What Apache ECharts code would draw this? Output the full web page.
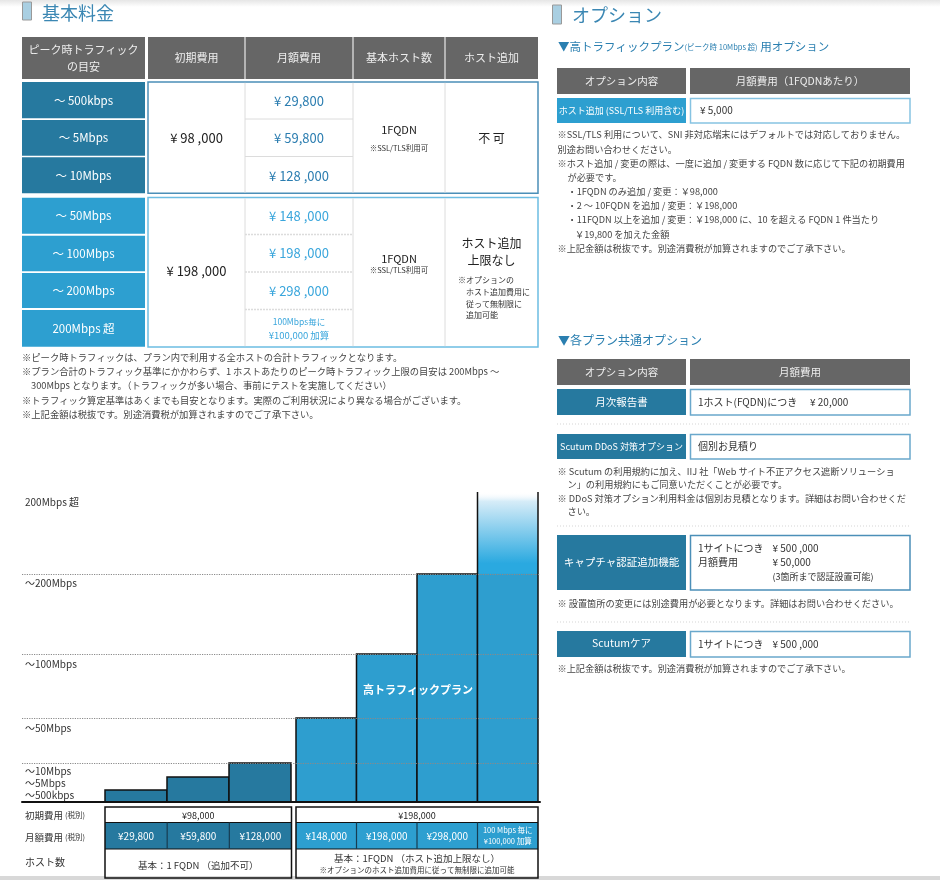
<!DOCTYPE html>
<html><head><meta charset="utf-8">
<script src="https://cdn.jsdelivr.net/npm/echarts@6/dist/echarts.min.js"></script>
<style>html,body{margin:0;padding:0;background:#fff}#c{width:940px;height:880px}</style>
</head><body><div id="c"></div>
<script>
// ---------- data ----------
const tierLabels = ['〜500kbps', '〜5Mbps', '〜10Mbps', '〜50Mbps', '〜100Mbps', '〜200Mbps', '200Mbps 超'];
const tierLabelLevels = [7, 19, 31, 74, 138, 219, 300];
const gridLevels = [39, 84, 148, 228];
const standardPlans = ['〜500kbps', '〜5Mbps', '〜10Mbps'];
const standardHeights = [12, 25, 39];
const highPlans = ['〜50Mbps', '〜100Mbps', '〜200Mbps', '200Mbps 超'];
const highHeights = [84, 148, 228, 310];
const standardInitial = '¥98,000';
const highInitial = '¥198,000';
const standardMonthly = ['¥29,800', '¥59,800', '¥128,000'];
const highMonthly = ['¥148,000', '¥198,000', '¥298,000', '100 Mbps 毎に\n¥100,000 加算'];
const standardHosts = '基本：1 FQDN （追加不可）';
const highHosts = ['基本：1FQDN （ホスト追加上限なし）', '※オプションのホスト追加費用に従って無制限に追加可能'];
const tableHeaders = ['ピーク時トラフィック\nの目安', '初期費用', '月額費用', '基本ホスト数', 'ホスト追加'];
const tableMonthly1 = ['¥ 29,800', '¥ 59,800', '¥ 128 ,000'];
const tableMonthly2 = ['¥ 148 ,000', '¥ 198 ,000', '¥ 298 ,000'];

// ---------- helpers ----------
const FF = "'Noto Sans CJK JP','Noto Sans',sans-serif";
const DARK = '#26799f', LIGHT = '#2d9fd0', HEAD = '#666666';
function txt(x, y, s, size, color, align, weight, lh) {
  return {type: 'text', x: x, y: y, z: 100, silent: true,
    style: {text: s, fill: color || '#333', font: (weight || 'normal') + ' ' + size + 'px ' + FF,
      textAlign: align || 'left', textVerticalAlign: 'middle', lineHeight: lh || Math.round(size * 1.4)}};
}
function rect(x, y, w, h, fill, stroke, lw) {
  return {type: 'rect', z: 50, silent: true, shape: {x: x, y: y, width: w, height: h},
    style: {fill: fill || 'none', stroke: stroke || null, lineWidth: lw || 0}};
}
function ln(x1, y1, x2, y2, stroke, lw, dash) {
  return {type: 'line', z: 60, silent: true, shape: {x1: x1, y1: y1, x2: x2, y2: y2},
    style: {stroke: stroke, lineWidth: lw || 1, lineDash: dash || null}};
}

const G = [];
// page decorations
G.push({type: 'rect', z: 1, silent: true, shape: {x: 0, y: 0, width: 940, height: 7},
  style: {fill: new echarts.graphic.LinearGradient(0, 0, 0, 1, [{offset: 0, color: '#e6e6e6'}, {offset: 1, color: '#ffffff'}])}});
G.push(rect(0, 876, 940, 4, '#d8d8d8'));
// titles
G.push(rect(22.5, 2, 9, 18, '#a9cfe2', '#999', 1));
G.push(txt(42, 13, '基本料金', 18, '#3b87b3'));
G.push(rect(552.5, 5, 9, 19, '#a9cfe2', '#999', 1));
G.push(txt(572, 15, 'オプション', 18, '#3b87b3'));

// ---------- top-left table ----------
G.push(rect(22, 37, 123, 42, HEAD));
G.push(rect(148, 37, 390, 42, HEAD));
[245, 353, 445].forEach(x => G.push(ln(x, 37, x, 79, '#cfcfcf', 1.5)));
const hdrX = [83.5, 196.5, 299, 399, 491.5];
tableHeaders.forEach((h, i) => G.push(txt(hdrX[i], 58, h, 11, '#eeeeee', 'center', 'normal', 17)));

const rows1 = [[82, 36.3], [120, 35.7], [157.3, 36]];
const rows2 = [[197.7, 36], [235.7, 35.6], [273, 35], [310, 36.7]];
rows1.forEach((r, i) => { G.push(rect(22, r[0], 123, r[1], DARK)); G.push(txt(83.5, r[0] + r[1] / 2, standardPlans[i].replace('〜', '〜 '), 11.5, '#fff', 'center')); });
rows2.forEach((r, i) => { G.push(rect(22, r[0], 123, r[1], LIGHT)); G.push(txt(83.5, r[0] + r[1] / 2, highPlans[i].indexOf('〜') === 0 ? highPlans[i].replace('〜', '〜 ') : highPlans[i], 11.5, '#fff', 'center')); });

// group 1 box
G.push(rect(148, 82, 390, 111.3, '#fff', '#4b8fb8', 1.5));
[245, 353, 445].forEach(x => G.push(ln(x, 82.8, x, 192.5, '#dcdcdc', 1)));
[119, 156.5].forEach(y => G.push(ln(245, y, 353, y, '#dcdcdc', 1)));
G.push(txt(196.5, 138, '¥ 98 ,000', 13, '#222', 'center'));
tableMonthly1.forEach((s, i) => G.push(txt(299, [101, 138.5, 176][i], s, 13, '#2b7db0', 'center')));
G.push(txt(399, 130, '1FQDN', 11, '#222', 'center'));
G.push(txt(399, 148, '※SSL/TLS利用可', 7.5, '#333', 'center'));
G.push(txt(491.5, 138, '不 可', 12, '#222', 'center'));

// group 2 box
G.push(rect(148, 197.5, 390, 149.5, '#fff', '#6cbde2', 1.5));
[245, 353, 445].forEach(x => G.push(ln(x, 198.3, x, 346.2, '#dcdcdc', 1)));
[234.5, 272, 309.5].forEach(y => G.push(ln(245, y, 353, y, '#dcdcdc', 1.5, [2, 1])));
G.push(txt(196.5, 271, '¥ 198 ,000', 13, '#222', 'center'));
tableMonthly2.forEach((s, i) => G.push(txt(299, [216, 253.5, 291][i], s, 13, '#3aa6dc', 'center')));
G.push(txt(299, 321.5, '100Mbps毎に', 8.5, '#3aa6dc', 'center'));
G.push(txt(299, 335.5, '¥100,000 加算', 9.5, '#3aa6dc', 'center'));
G.push(txt(399, 259, '1FQDN', 11, '#222', 'center'));
G.push(txt(399, 270.5, '※SSL/TLS利用可', 7.5, '#333', 'center'));
G.push(txt(491.5, 243.5, 'ホスト追加', 12, '#222', 'center'));
G.push(txt(491.5, 260.5, '上限なし', 12, '#222', 'center'));
G.push(txt(458, 280, '※オプションの', 8, '#333'));
G.push(txt(466, 292, 'ホスト追加費用に', 8, '#333'));
G.push(txt(466, 303.5, '従って無制限に', 8, '#333'));
G.push(txt(466, 315, '追加可能', 8, '#333'));

// notes left
[[22, 357, '※ピーク時トラフィックは、プラン内で利用する全ホストの合計トラフィックとなります。'],
 [22, 371.5, '※プラン合計のトラフィック基準にかかわらず、1 ホストあたりのピーク時トラフィック上限の目安は 200Mbps 〜'],
 [31, 385.5, '300Mbps となります。（トラフィックが多い場合、事前にテストを実施してください）'],
 [22, 400, '※トラフィック算定基準はあくまでも目安となります。実際のご利用状況により異なる場合がございます。'],
 [22, 414.5, '※上記金額は税抜です。別途消費税が加算されますのでご了承下さい。']
].forEach(n => G.push(txt(n[0], n[1], n[2], 9.3, '#444')));

// ---------- right side ----------
const BLUE_T = '#2a7fb0';
G.push({type: 'text', x: 558, y: 47, z: 100, silent: true,
  style: {text: '{a|▼高トラフィックプラン}{b|(ピーク時 10Mbps 超)}{a| 用オプション}', textVerticalAlign: 'middle',
    rich: {a: {fontSize: 11.5, fontFamily: FF, fill: BLUE_T, color: BLUE_T}, b: {fontSize: 7.5, fontFamily: FF, fill: BLUE_T, color: BLUE_T}}}});
G.push(rect(557, 68, 129, 26, HEAD)); G.push(rect(690, 68, 220, 26, HEAD));
G.push(txt(621.5, 81, 'オプション内容', 10.5, '#eee', 'center'));
G.push(txt(800, 81, '月額費用（1FQDNあたり）', 10.5, '#eee', 'center'));
G.push(rect(557, 98, 129, 25, LIGHT)); G.push(rect(690.5, 98.5, 219.5, 24.5, '#fff', '#86c3e2', 1.5));
G.push(txt(621.5, 110.5, 'ホスト追加 (SSL/TLS 利用含む)', 9, '#fff', 'center'));
G.push(txt(700, 110.5, '¥ 5,000', 10, '#333'));
[[557.5, 135, '※SSL/TLS 利用について、SNI 非対応端末にはデフォルトでは対応しておりません。'],
 [557.5, 149.3, '別途お問い合わせください。'],
 [557.5, 163.3, '※ホスト追加 / 変更の際は、一度に追加 / 変更する FQDN 数に応じて下記の初期費用'],
 [567.5, 177.3, 'が必要です。'],
 [567.5, 191.3, '・1FQDN のみ追加 / 変更：￥98,000'],
 [567.5, 206, '・2 〜 10FQDN を追加 / 変更：￥198,000'],
 [567.5, 220, '・11FQDN 以上を追加 / 変更：￥198,000 に、10 を超える FQDN 1 件当たり'],
 [575, 234.7, '￥19,800 を加えた金額'],
 [557.5, 248.7, '※上記金額は税抜です。別途消費税が加算されますのでご了承下さい。']
].forEach(n => G.push(txt(n[0], n[1], n[2], 9.2, '#444')));

G.push(txt(558, 340.7, '▼各プラン共通オプション', 12, BLUE_T));
G.push(rect(557, 359, 129, 26, HEAD)); G.push(rect(690, 359, 220, 26, HEAD));
G.push(txt(621.5, 372, 'オプション内容', 10.5, '#eee', 'center'));
G.push(txt(800, 372, '月額費用', 10.5, '#eee', 'center'));

G.push(rect(557, 389, 129, 26, DARK)); G.push(rect(690.5, 389.5, 219.5, 25.5, '#fff', '#6aa8cc', 1.5));
G.push(txt(621.5, 402, '月次報告書', 10.5, '#fff', 'center'));
G.push(txt(698, 402, '1ホスト(FQDN)につき', 10, '#333'));
G.push(txt(810, 402, '¥ 20,000', 10, '#333'));
G.push(ln(557, 424, 910, 424, '#d5d5d5', 1, [1, 2]));
G.push(rect(557, 434, 129, 25, DARK)); G.push(rect(690.5, 434.5, 219.5, 24.5, '#fff', '#6aa8cc', 1.5));
G.push(txt(621.5, 446.5, 'Scutum DDoS 対策オプション', 9, '#fff', 'center'));
G.push(txt(698, 446.5, '個別お見積り', 10, '#333'));
[[557.5, 471.7, '※ Scutum の利用規約に加え、IIJ 社「Web サイト不正アクセス遮断ソリューショ'],
 [567.5, 484.5, 'ン」の利用規約にもご同意いただくことが必要です。'],
 [557.5, 499, '※ DDoS 対策オプション利用料金は個別お見積となります。詳細はお問い合わせくだ'],
 [567.5, 511.7, 'さい。']
].forEach(n => G.push(txt(n[0], n[1], n[2], 9.2, '#444')));
G.push(ln(557, 526, 910, 526, '#d5d5d5', 1, [1, 2]));
G.push(rect(557, 535, 129, 55, DARK)); G.push(rect(690.5, 535.5, 219.5, 54.5, '#fff', '#4b8fb8', 1.5));
G.push(txt(621.5, 562.5, 'キャプチャ認証追加機能', 10.5, '#fff', 'center'));
G.push(txt(698, 548.3, '1サイトにつき', 10, '#333')); G.push(txt(772.5, 548.3, '¥ 500 ,000', 10, '#333'));
G.push(txt(698, 562.7, '月額費用', 10, '#333')); G.push(txt(772.5, 562.7, '¥ 50,000', 10, '#333'));
G.push(txt(772.5, 576.7, '(3箇所まで認証設置可能)', 9, '#333'));
G.push(txt(557.5, 604, '※ 設置箇所の変更には別途費用が必要となります。詳細はお問い合わせください。', 9.2, '#444'));
G.push(ln(557, 622, 910, 622, '#d5d5d5', 1, [1, 2]));
G.push(rect(557, 631, 129, 26, DARK)); G.push(rect(690.5, 631.5, 219.5, 25.5, '#fff', '#6aa8cc', 1.5));
G.push(txt(621.5, 643.5, 'Scutumケア', 10.5, '#fff', 'center'));
G.push(txt(698, 644.3, '1サイトにつき', 10, '#333')); G.push(txt(772.5, 644.3, '¥ 500 ,000', 10, '#333'));
G.push(txt(557.5, 669, '※上記金額は税抜です。別途消費税が加算されますのでご了承下さい。', 9.2, '#444'));

// ---------- chart label ----------
G.push(txt(418, 690, '高トラフィックプラン', 11, '#fff', 'center', 'bold'));

// ---------- bottom table ----------
G.push(txt(25, 815.5, '初期費用', 9.5, '#333')); G.push(txt(65, 815.5, '(税別)', 7.5, '#333'));
G.push(txt(25, 837, '月額費用', 9.5, '#333')); G.push(txt(65, 837, '(税別)', 7.5, '#333'));
G.push(txt(25, 862, 'ホスト数', 10, '#333'));
function bottomBox(x0, x1, fill, initial, monthly, hosts) {
  const n = monthly.length, w = (x1 - x0) / n;
  G.push(rect(x0, 822.5, x1 - x0, 26.5, fill));
  G.push(rect(x0, 807, x1 - x0, 71, null, '#111', 1.5));
  G.push(ln(x0, 822.5, x1, 822.5, '#111', 1.2));
  G.push(ln(x0, 849, x1, 849, '#111', 1.2));
  for (let i = 1; i < n; i++) G.push(ln(x0 + w * i, 822.5, x0 + w * i, 849, '#173d52', 1.2));
  G.push(txt((x0 + x1) / 2, 815.5, initial, 9, '#222', 'center'));
  monthly.forEach((m, i) => {
    const multi = m.indexOf('\n') >= 0;
    G.push(txt(x0 + w * (i + 0.5), 836, m, multi ? 7.5 : 10, '#fff', 'center', 'normal', multi ? 11 : 14));
  });
  if (hosts.length === 1) G.push(txt((x0 + x1) / 2, 865, hosts[0], 9.5, '#333', 'center'));
  else { G.push(txt((x0 + x1) / 2, 858.5, hosts[0], 9.5, '#333', 'center')); G.push(txt((x0 + x1) / 2, 870, hosts[1], 7.5, '#333', 'center')); }
}
bottomBox(105, 291.5, DARK, standardInitial, standardMonthly, [standardHosts]);
bottomBox(296, 538, LIGHT, highInitial, highMonthly, highHosts);

// ---------- bars ----------
function makeRender(fill, fadeIndex) {
  return function (params, api) {
    const idx = api.value(0), h = api.value(1);
    const base = api.coord([idx, 0]), top = api.coord([idx, h]);
    const w = api.size([1, 0])[0];
    const x = base[0] - w / 2, y = top[1], hh = base[1] - top[1];
    if (idx === fadeIndex) {
      const g = new echarts.graphic.LinearGradient(0, 0, 0, 1, [
        {offset: 0, color: 'rgba(255,255,255,0)'},
        {offset: 0.03, color: 'rgba(214,236,248,1)'},
        {offset: 0.23, color: '#2aa9e0'},
        {offset: 0.262, color: '#2aa9e0'},
        {offset: 0.266, color: fill},
        {offset: 1, color: fill}]);
      return {type: 'group', children: [
        {type: 'rect', shape: {x: x, y: y, width: w, height: hh}, style: {fill: g}},
        {type: 'line', shape: {x1: x, y1: y, x2: x, y2: base[1]}, style: {stroke: '#111', lineWidth: 1.5}},
        {type: 'line', shape: {x1: x + w, y1: y, x2: x + w, y2: base[1]}, style: {stroke: '#111', lineWidth: 1.5}}]};
    }
    return {type: 'rect', shape: {x: x, y: y, width: w, height: hh}, style: {fill: fill, stroke: '#111', lineWidth: 1.5}};
  };
}

const chart = echarts.init(document.getElementById('c'), null, {renderer: 'canvas'});
chart.setOption({
  animation: false,
  backgroundColor: '#ffffff',
  grid: [
    {left: 22, right: 400, top: 492, bottom: 78},
    {left: 105, right: 649, top: 492, bottom: 78},
    {left: 296, right: 402, top: 492, bottom: 78}
  ],
  xAxis: [
    {gridIndex: 0, type: 'value', min: 0, max: 1, axisLine: {show: true, onZero: false, lineStyle: {color: '#111', width: 2}},
      axisTick: {show: false}, axisLabel: {show: false}, splitLine: {show: false}, z: 20},
    {gridIndex: 1, type: 'category', data: standardPlans, show: false},
    {gridIndex: 2, type: 'category', data: highPlans, show: false}
  ],
  yAxis: [
    {gridIndex: 0, type: 'value', min: 0, max: 310, axisLine: {show: false}, axisTick: {show: false}, splitLine: {show: false},
      axisLabel: {inside: true, margin: 3, customValues: tierLabelLevels, color: '#333', fontSize: 10, fontFamily: FF,
        formatter: function (v) { const i = tierLabelLevels.indexOf(v); return i >= 0 ? tierLabels[i] : ''; }}},
    {gridIndex: 1, type: 'value', min: 0, max: 310, show: false},
    {gridIndex: 2, type: 'value', min: 0, max: 310, show: false}
  ],
  series: [
    {type: 'custom', xAxisIndex: 1, yAxisIndex: 1, renderItem: makeRender(DARK, -1),
      encode: {x: 0, y: 1}, data: standardHeights.map((v, i) => [i, v]), z: 2},
    {type: 'custom', xAxisIndex: 2, yAxisIndex: 2, renderItem: makeRender('#2e9ecf', highHeights.length - 1),
      encode: {x: 0, y: 1}, data: highHeights.map((v, i) => [i, v]), z: 2},
    {type: 'line', xAxisIndex: 0, yAxisIndex: 0, data: [[0, 0], [1, 0]], symbol: 'none', lineStyle: {opacity: 0}, silent: true, z: 10,
      markLine: {silent: true, symbol: 'none', label: {show: false},
        lineStyle: {type: 'dotted', color: '#8a8a8a', width: 1.2},
        data: gridLevels.map(v => ({yAxis: v}))}}
  ],
  graphic: {elements: G}
});
</script>
</body></html>
